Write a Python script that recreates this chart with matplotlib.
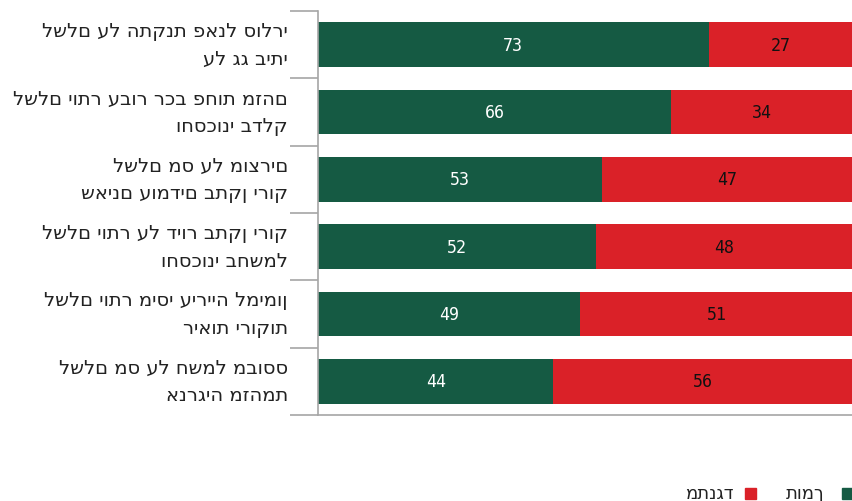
import matplotlib
matplotlib.use("Agg")
import matplotlib.pyplot as plt
from matplotlib.patches import Rectangle
from matplotlib.transforms import blended_transform_factory

# survey topics, two lines each
topics = [
    ("לשלם על התקנת פאנל סולרי", "על גג ביתי"),
    ("לשלם יותר עבור רכב פחות מזהם", "וחסכוני בדלק"),
    ("לשלם מס על מוצרים", "שאינם עומדים בתקן ירוק"),
    ("לשלם יותר על דיור בתקן ירוק", "וחסכוני בחשמל"),
    ("לשלם יותר מיסי עירייה למימון", "ריאות ירוקות"),
    ("לשלם מס על חשמל מבוסס", "אנרגיה מזהמת"),
]
support = [73, 66, 53, 52, 49, 44]
oppose = [27, 34, 47, 48, 51, 56]
legend_labels = ["תומך", "מתנגד"]

GREEN = "#155a43"
RED = "#da2128"
GRID = "#a6a6a6"
FONT = ["DejaVu Sans"]
NUM_FONT = ["DejaVu Sans Mono"]

fig = plt.figure(figsize=(8.53, 5.02), dpi=100)
W, H = 853, 502
ax = fig.add_axes([318 / W, 1 - 416 / H, 1 - 318 / W, (416 - 12) / H])

y = list(range(len(topics)))
ax.barh(y, support, height=0.66, color=GREEN, edgecolor="none")
ax.barh(y, oppose, left=support, height=0.66, color=RED, edgecolor="none")

for i, (s, o) in enumerate(zip(support, oppose)):
    ax.text(s / 2, i, str(s), ha="center", va="center", color="white",
            fontsize=12, family=NUM_FONT)
    ax.text(s + o / 2, i, str(o), ha="center", va="center", color="#111111",
            fontsize=12, family=NUM_FONT)

ax.set_xlim(0, 100)
ax.set_ylim(len(topics) - 0.5, -0.5)

# category labels, right aligned next to the axis
trans = blended_transform_factory(fig.transFigure, ax.transData)
for i, (l1, l2) in enumerate(topics):
    ax.text(288 / W, i - 0.21, l1, ha="right", va="center",
            fontsize=14, family=FONT, color="#222222", transform=trans)
    ax.text(288 / W, i + 0.2, l2, ha="right", va="center",
            fontsize=14, family=FONT, color="#222222", transform=trans)

ax.set_xticks([])
ax.set_yticks([])
ax.set_yticks([i - 0.5 for i in range(len(topics) + 1)], minor=True)
ax.tick_params(axis="y", which="minor", length=20, width=1.2, color=GRID,
               labelleft=False)
for side in ["top", "right"]:
    ax.spines[side].set_visible(False)
for side in ["left", "bottom"]:
    ax.spines[side].set_color(GRID)
    ax.spines[side].set_linewidth(1.2)

# legend, drawn right to left along the bottom edge
ly = 1 - 494 / H
sq = 11
fig.patches.append(Rectangle((842 / W, ly - sq / 2 / H), sq / W, sq / H,
                             transform=fig.transFigure, color=GREEN))
fig.text(824 / W, ly, legend_labels[0], ha="right", va="center",
         fontsize=13, family=FONT, color="#222222")
fig.patches.append(Rectangle((745 / W, ly - sq / 2 / H), sq / W, sq / H,
                             transform=fig.transFigure, color=RED))
fig.text(734 / W, ly, legend_labels[1], ha="right", va="center",
         fontsize=13, family=FONT, color="#222222")

fig.savefig("out.png", dpi=100)
